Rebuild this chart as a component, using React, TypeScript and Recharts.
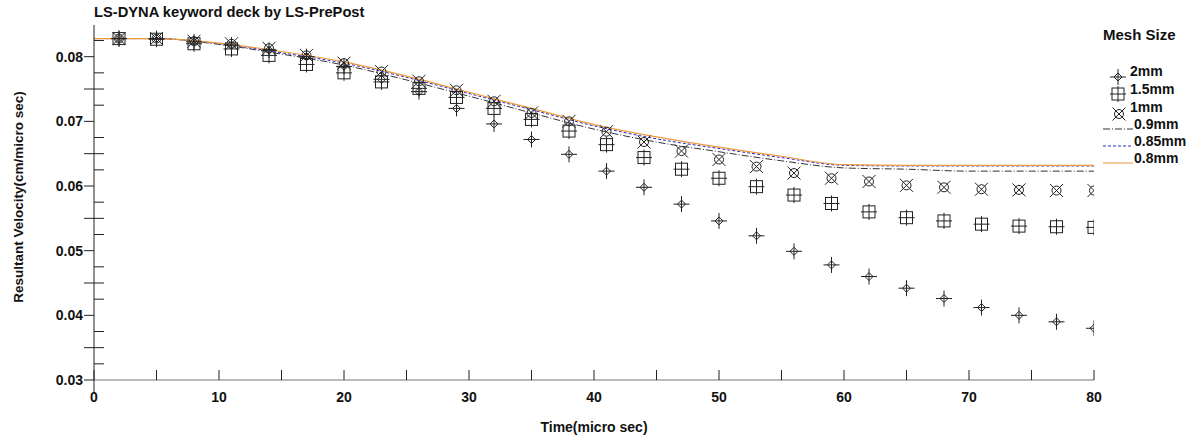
import React from 'react'
import {
  ComposedChart, Line, Scatter, XAxis, YAxis, Legend,
} from 'recharts'

// sample times of the marker series (micro sec)
const markerTimes = [2, 5, 8, 11, 14, 17, 20, 23, 26, 29, 32, 35, 38, 41, 44, 47, 50, 53, 56, 59, 62, 65, 68, 71, 74, 77, 80]

const mesh2mm = [0.0828, 0.0828, 0.0823, 0.0818, 0.0810, 0.0800, 0.0785, 0.0765, 0.0746, 0.0720, 0.0696, 0.0672, 0.0649, 0.0623, 0.0598, 0.0572, 0.0546, 0.0523, 0.0499, 0.0478, 0.0460, 0.0442, 0.0426, 0.0412, 0.0400, 0.0390, 0.0380]
const mesh15mm = [0.0828, 0.0827, 0.0820, 0.0812, 0.0802, 0.0788, 0.0775, 0.0761, 0.0751, 0.0737, 0.0720, 0.0703, 0.0685, 0.0664, 0.0644, 0.0626, 0.0612, 0.0599, 0.0586, 0.0573, 0.0560, 0.0551, 0.0546, 0.0541, 0.0538, 0.0537, 0.0536]
const mesh1mm = [0.0828, 0.0828, 0.0824, 0.0820, 0.0813, 0.0802, 0.0790, 0.0777, 0.0762, 0.0748, 0.0731, 0.0713, 0.0700, 0.0684, 0.0668, 0.0654, 0.0641, 0.0630, 0.0620, 0.0612, 0.0607, 0.0601, 0.0598, 0.0595, 0.0594, 0.0593, 0.0593]

// curve series read every 5 micro sec
const lineTimes = [0, 5, 10, 15, 20, 25, 30, 35, 40, 45, 50, 55, 60, 65, 70, 75, 80]
const mesh09mm = [0.0828, 0.0828, 0.0819, 0.0804, 0.0787, 0.0764, 0.0739, 0.0713, 0.0688, 0.0668, 0.0653, 0.0639, 0.0628, 0.0626, 0.0623, 0.0623, 0.0623]
const mesh085mm = [0.0828, 0.0828, 0.0820, 0.0806, 0.0790, 0.0768, 0.0743, 0.0718, 0.0693, 0.0673, 0.0658, 0.0644, 0.0632, 0.0631, 0.0631, 0.0631, 0.0631]
const mesh08mm = [0.0828, 0.0828, 0.0821, 0.0808, 0.0792, 0.0770, 0.0745, 0.0720, 0.0695, 0.0676, 0.0660, 0.0646, 0.0633, 0.0632, 0.0632, 0.0632, 0.0632]

const xTicks = [0, 5, 10, 15, 20, 25, 30, 35, 40, 45, 50, 55, 60, 65, 70, 75, 80]
const xTopTicks = [10, 20, 30, 40, 50, 60, 70]
const yTicks = [0.03, 0.0325, 0.035, 0.0375, 0.04, 0.0425, 0.045, 0.0475, 0.05, 0.0525, 0.055, 0.0575, 0.06, 0.0625, 0.065, 0.0675, 0.07, 0.0725, 0.075, 0.0775, 0.08, 0.0825]
const yRightTicks = [0.035, 0.04, 0.045, 0.05, 0.055, 0.06, 0.065, 0.07, 0.075, 0.08]

const markerData = markerTimes.map((t, i) => ({ t, m2: mesh2mm[i], m15: mesh15mm[i], m1: mesh1mm[i] }))
const lineData = lineTimes.map((t, i) => ({ t, m09: mesh09mm[i], m085: mesh085mm[i], m08: mesh08mm[i] }))

const FONT = '"Liberation Sans", Arial, sans-serif'
const INK = '#222'
const ORANGE = '#EE9A3A'
const BLUE = '#2a2acc'

function Diamond({ cx, cy }: any) {
  return (
    <g stroke={INK} strokeWidth={1} fill="none">
      <path d={`M${cx},${cy - 4}L${cx + 4},${cy}L${cx},${cy + 4}L${cx - 4},${cy}Z`} />
      <line x1={cx - 8} x2={cx + 8} y1={cy} y2={cy} />
      <line x1={cx} x2={cx} y1={cy - 8} y2={cy + 8} />
    </g>
  )
}

function BoxCross({ cx, cy }: any) {
  return (
    <g stroke={INK} strokeWidth={1} fill="none">
      <rect x={cx - 6} y={cy - 6} width={12} height={12} />
      <line x1={cx - 8} x2={cx + 8} y1={cy} y2={cy} />
      <line x1={cx} x2={cx} y1={cy - 8} y2={cy + 8} />
    </g>
  )
}

function CircleX({ cx, cy }: any) {
  return (
    <g stroke={INK} strokeWidth={1} fill="none">
      <circle cx={cx} cy={cy} r={4.5} />
      <line x1={cx - 6.5} x2={cx + 6.5} y1={cy - 6.5} y2={cy + 6.5} />
      <line x1={cx - 6.5} x2={cx + 6.5} y1={cy + 6.5} y2={cy - 6.5} />
    </g>
  )
}

function BottomTick({ x, y, payload }: any) {
  const v = payload.value
  const major = v % 10 === 0
  return (
    <g>
      <line x1={x} x2={x} y1={y - 10} y2={v === 0 ? y + 13 : y} stroke={INK} />
      {major && (
        <text x={x} y={y + 22} textAnchor="middle" fontFamily={FONT} fontSize={14} fontWeight="bold" fill="#111">{v}</text>
      )}
    </g>
  )
}

function LeftTick({ x, y, payload }: any) {
  const v = payload.value
  const major = Math.abs(v * 100 - Math.round(v * 100)) < 1e-6
  const half = Math.abs(v * 200 - Math.round(v * 200)) < 1e-6
  const x1 = major || half ? x - 10 : x
  const x2 = major ? x : x + 10
  return (
    <g>
      <line x1={x1} x2={x2} y1={y} y2={y} stroke={INK} />
      {major && (
        <text x={x - 11} y={y + 5} textAnchor="end" fontFamily={FONT} fontSize={14} fontWeight="bold" fill="#111">{v.toFixed(2)}</text>
      )}
    </g>
  )
}

function TopTick({ x, y }: any) {
  return <line x1={x} x2={x} y1={y} y2={y + 8} stroke={INK} />
}

function RightTick({ x, y }: any) {
  return <line x1={x - 10} x2={x} y1={y} y2={y} stroke={INK} />
}

function YTitle() {
  return (
    <text
      x={23} y={197} transform="rotate(-90 23 197)" textAnchor="middle"
      fontFamily={FONT} fontSize={13.5} fontWeight="bold" fill="#111"
    >
      Resultant Velocity(cm/micro sec)
    </text>
  )
}

function MeshLegend() {
  const txt = { fontFamily: FONT, fontSize: 14, fontWeight: 'bold' as const, fill: '#111' }
  return (
    <svg width={97} height={150} style={{ display: 'block' }}>
      <text x={5} y={20} {...txt} fontSize={15}>Mesh Size</text>
      <Diamond cx={20} cy={57} />
      <text x={32} y={56} {...txt}>2mm</text>
      <BoxCross cx={20} cy={74} />
      <text x={32} y={74} {...txt}>1.5mm</text>
      <CircleX cx={21} cy={94} />
      <text x={32} y={92} {...txt}>1mm</text>
      <line x1={5} x2={35} y1={109} y2={109} stroke="#333" strokeDasharray="7 2 1 2" />
      <text x={36} y={109} {...txt}>0.9mm</text>
      <line x1={5} x2={35} y1={126} y2={126} stroke={BLUE} strokeDasharray="3 2" />
      <text x={36} y={126} {...txt}>0.85mm</text>
      <line x1={5} x2={35} y1={143} y2={143} stroke={ORANGE} />
      <text x={36} y={143} {...txt}>0.8mm</text>
    </svg>
  )
}

export default function App() {
  return (
    <div style={{ position: 'absolute', left: 0, top: 0, width: 1195, height: 437, background: '#fff' }}>
      <div style={{ position: 'absolute', left: 94, top: 4, fontFamily: FONT, fontSize: 14.7, fontWeight: 'bold', color: '#111', whiteSpace: 'nowrap' }}>
        LS-DYNA keyword deck by LS-PrePost
      </div>
      <ComposedChart width={1195} height={437} margin={{ top: 25, right: 101, bottom: 0, left: 0 }}>
        <XAxis
          xAxisId="main" dataKey="t" type="number" domain={[0, 80]} ticks={xTicks} allowDataOverflow
          height={57} tickSize={0} tickMargin={0} tick={<BottomTick />} interval={0}
          axisLine={{ stroke: '#777' }}
          label={{ value: 'Time(micro sec)', position: 'insideBottom', offset: 5, style: { fontFamily: FONT, fontSize: 14, fontWeight: 'bold', fill: '#111' } }}
        />
        <XAxis
          xAxisId="top" orientation="top" type="number" domain={[0, 80]} ticks={xTopTicks} allowDataOverflow
          height={0} tickSize={0} tickMargin={0} tick={<TopTick />} interval={0} axisLine={{ stroke: '#777' }}
        />
        <YAxis
          yAxisId="main" type="number" domain={[0.03, 0.0849]} ticks={yTicks} allowDataOverflow
          width={94} tickSize={0} tickMargin={0} tick={<LeftTick />} interval={0}
          axisLine={{ stroke: INK }}
          label={{ content: () => <YTitle /> }}
        />
        <YAxis
          yAxisId="right" orientation="right" type="number" domain={[0.03, 0.0849]} ticks={yRightTicks} allowDataOverflow
          width={0} tickSize={0} tickMargin={0} tick={<RightTick />} interval={0} axisLine={{ stroke: INK }}
        />
        <Legend
          layout="vertical" align="center" verticalAlign="middle"
          wrapperStyle={{ position: 'absolute', left: 1098, top: 20, width: 97 }}
          content={() => <MeshLegend />}
        />
        <Line xAxisId="main" yAxisId="main" data={lineData} dataKey="m09" type="monotone" stroke="#333" strokeWidth={1} strokeDasharray="7 2 1 2" dot={false} isAnimationActive={false} />
        <Line xAxisId="main" yAxisId="main" data={lineData} dataKey="m085" type="monotone" stroke={BLUE} strokeWidth={1} strokeDasharray="3 2" dot={false} isAnimationActive={false} />
        <Line xAxisId="main" yAxisId="main" data={lineData} dataKey="m08" type="monotone" stroke={ORANGE} strokeWidth={1.2} dot={false} isAnimationActive={false} />
        <Scatter xAxisId="main" yAxisId="main" data={markerData} dataKey="m2" shape={(p: any) => <Diamond cx={p.cx} cy={p.cy} />} isAnimationActive={false} />
        <Scatter xAxisId="main" yAxisId="main" data={markerData} dataKey="m15" shape={(p: any) => <BoxCross cx={p.cx} cy={p.cy} />} isAnimationActive={false} />
        <Scatter xAxisId="main" yAxisId="main" data={markerData} dataKey="m1" shape={(p: any) => <CircleX cx={p.cx} cy={p.cy} />} isAnimationActive={false} />
      </ComposedChart>
    </div>
  )
}
